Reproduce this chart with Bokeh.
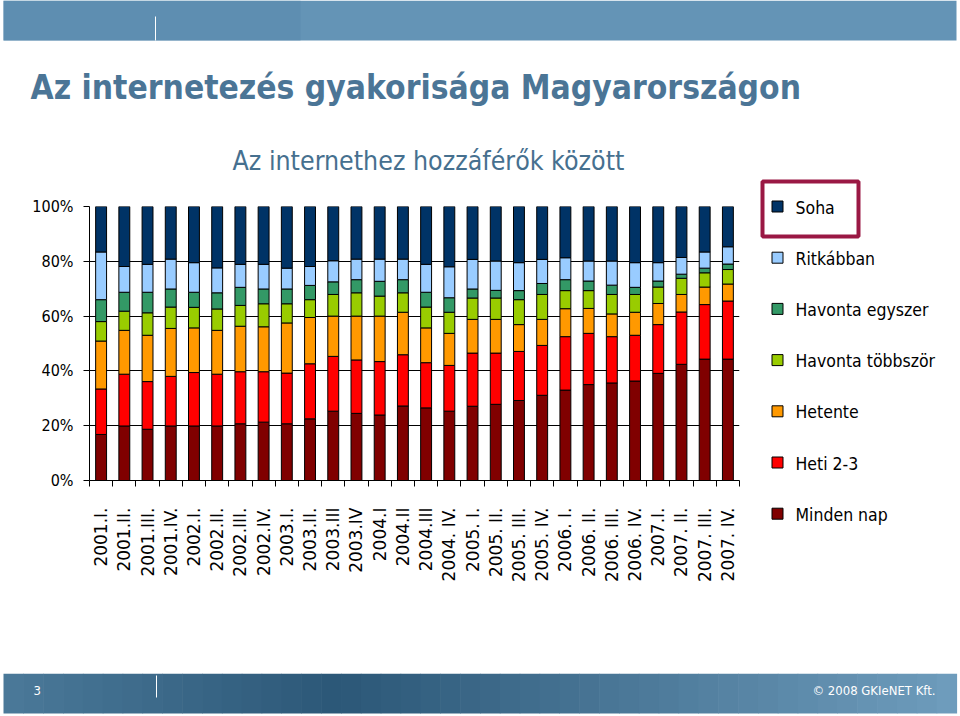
import math
from bokeh.plotting import figure
from bokeh.layouts import column, row
from bokeh.models import Range1d, FixedTicker, CustomJSTickFormatter, ColumnDataSource
from bokeh.core.properties import value
from bokeh.embed import file_html
from bokeh.resources import INLINE

# ---------------- data ----------------
categories = ["2001.I.", "2001.II.", "2001.III.", "2001.IV.",
              "2002.I.", "2002.II.", "2002.III.", "2002.IV.",
              "2003.I.", "2003.II.", "2003.III", "2003.IV",
              "2004.I", "2004.II", "2004.III", "2004. IV.",
              "2005. I.", "2005. II.", "2005. III.", "2005. IV.",
              "2006. I.", "2006. II.", "2006. III.", "2006. IV.",
              "2007.I.", "2007. II.", "2007. III.", "2007. IV."]

minden_nap = [16.8, 19.9, 18.7, 19.9, 19.9, 19.9, 20.7, 21.3, 20.7, 22.5, 25.3, 24.5, 23.9, 27.2,
              26.5, 25.3, 27.1, 27.8, 29.2, 31.1, 33.0, 35.0, 35.6, 36.3, 39.1, 42.4, 44.3, 44.3]
heti_2_3 = [16.6, 18.9, 17.4, 18.1, 19.5, 18.9, 19.0, 18.4, 18.5, 20.1, 20.0, 19.5, 19.5, 18.7,
            16.5, 16.7, 19.4, 18.7, 17.9, 18.2, 19.5, 18.7, 16.9, 16.7, 17.8, 19.1, 19.9, 21.2]
hetente = [17.5, 16.0, 16.9, 17.5, 16.3, 16.0, 16.6, 16.4, 18.3, 16.9, 14.7, 16.0, 16.6, 15.5,
           12.7, 11.7, 12.3, 12.3, 9.8, 9.5, 10.2, 9.1, 8.3, 8.4, 7.7, 6.4, 6.4, 6.2]
havonta_tobbszor = [7.1, 7.0, 8.2, 7.8, 7.5, 7.8, 7.6, 8.4, 7.0, 6.5, 7.9, 8.5, 7.3, 7.1,
                    7.6, 7.7, 7.8, 7.8, 9.1, 9.1, 6.6, 6.5, 7.1, 6.5, 6.0, 5.9, 5.2, 5.3]
havonta_egyszer = [8.0, 6.9, 7.5, 6.6, 5.5, 5.9, 6.6, 5.4, 5.4, 5.2, 4.6, 4.8, 5.4, 4.8,
                   5.4, 5.3, 3.3, 2.8, 3.3, 4.0, 4.0, 3.5, 3.4, 2.6, 2.2, 1.5, 1.7, 2.0]
ritkabban = [17.4, 9.4, 10.2, 10.9, 10.8, 9.1, 8.4, 9.0, 7.6, 6.9, 7.7, 7.5, 8.1, 7.5,
             10.2, 11.3, 10.8, 10.7, 10.2, 8.8, 8.0, 7.3, 8.8, 9.0, 6.7, 6.1, 5.9, 6.3]
soha = [16.6, 21.9, 21.1, 19.2, 20.5, 22.4, 21.1, 21.1, 22.5, 21.9, 19.8, 19.2, 19.2, 19.2,
        21.1, 22.0, 19.3, 19.9, 20.5, 19.3, 18.7, 19.9, 19.9, 20.5, 20.5, 18.6, 16.6, 14.7]

series_names = ["Minden nap", "Heti 2-3", "Hetente", "Havonta többször",
                "Havonta egyszer", "Ritkábban", "Soha"]
series_values = [minden_nap, heti_2_3, hetente, havonta_tobbszor, havonta_egyszer, ritkabban, soha]
colors = ["#800000", "#FF0000", "#FF9900", "#99CC00", "#339966", "#99CCFF", "#003366"]

y_ticks = [0, 20, 40, 60, 80, 100]
y_tick_labels = ["0%", "20%", "40%", "60%", "80%", "100%"]

title_text = "Az internetezés gyakorisága Magyarországon"
subtitle_text = "Az internethez hozzáférők között"
page_number = "3"
copyright_text = "© 2008 GKIeNET Kft."

SLIDE_FONT = "DejaVu Sans Condensed"
AXIS_FONT = "DejaVu Sans"

HDR_H = 177
MID_H = 673 - HDR_H


def blank(width, height, xr, yr):
    f = figure(width=width, height=height, x_range=Range1d(*xr), y_range=Range1d(*yr),
               x_axis_type=None, y_axis_type=None, output_backend="svg",
               toolbar_location=None, min_border=0)
    f.grid.visible = False
    f.outline_line_color = None
    f.background_fill_color = "white"
    f.border_fill_color = "white"
    if "frame_align" in f.properties():
        f.frame_align = False
    return f


# ---------------- header ----------------
hdr = blank(960, HDR_H, (0, 960), (HDR_H, 0))
hdr.quad(left=3, right=956, top=0, bottom=40, fill_color="#6494b6", line_color=None)
hdr.quad(left=3, right=300, top=0, bottom=40, fill_color="#5a8aae", line_color=None, fill_alpha=0.6)
hdr.segment(x0=155, y0=16, x1=155, y1=40, line_color="white", line_width=1)
hdr.text(x=[30], y=[87], text=[title_text], text_font=value(SLIDE_FONT),
         text_font_style="bold", text_font_size="33.3px", text_color="#4b7596",
         text_baseline="alphabetic", text_align="left")
hdr.text(x=[232], y=[160], text=[subtitle_text], text_font=value(SLIDE_FONT),
         text_font_size="26.5px", text_color="#46708f",
         text_baseline="alphabetic", text_align="left")

# ---------------- main chart ----------------
n = len(categories)
src = ColumnDataSource(dict(x=[i + 0.5 for i in range(n)],
                            **{f"s{k}": v for k, v in enumerate(series_values)}))

p = figure(width=750, height=MID_H, x_range=Range1d(0, n), y_range=Range1d(0, 100),
           output_backend="svg", toolbar_location=None,
           min_border_left=89, min_border_right=11, min_border_top=206 - HDR_H,
           min_border_bottom=193)
p.background_fill_color = "white"
p.border_fill_color = "white"
p.outline_line_color = None

p.vbar_stack([f"s{k}" for k in range(len(series_values))], x="x", width=0.47, source=src,
             fill_color=colors, line_color="black", line_width=1)

p.xgrid.visible = False
p.ygrid.ticker = FixedTicker(ticks=y_ticks)
p.ygrid.grid_line_color = "black"
p.ygrid.grid_line_width = 1

yax = p.yaxis[0]
yax.ticker = FixedTicker(ticks=y_ticks)
yax.major_label_overrides = {t: l for t, l in zip(y_ticks, y_tick_labels)}
yax.axis_line_color = "black"
yax.major_tick_line_color = "black"
yax.major_tick_out = 6
yax.major_tick_in = 0
yax.minor_tick_line_color = None
yax.major_label_standoff = 10
yax.major_label_text_font = SLIDE_FONT
yax.major_label_text_font_size = "16px"
yax.major_label_text_color = "black"

xax = p.xaxis[0]
xax.ticker = FixedTicker(ticks=[i + 0.5 for i in range(n)], minor_ticks=list(range(n + 1)))
xax.formatter = CustomJSTickFormatter(args=dict(labels=categories),
                                      code="const i = Math.floor(tick); return (i >= 0 && i < labels.length) ? labels[i] : '';")
xax.axis_line_color = "black"
xax.major_tick_line_color = None
xax.major_tick_out = 0
xax.major_tick_in = 0
xax.minor_tick_line_color = "black"
xax.minor_tick_out = 6
xax.minor_tick_in = 0
xax.major_label_orientation = math.pi / 2
xax.major_label_standoff = 21
xax.major_label_text_font = AXIS_FONT
xax.major_label_text_font_size = "17px"
xax.major_label_text_color = "black"

# ---------------- legend ----------------
leg = blank(210, MID_H, (750, 960), (673, HDR_H))
leg_names = series_names[::-1]
leg_colors = colors[::-1]
leg_y = [206 + 51.2 * k for k in range(len(leg_names))]
leg.rect(x=[777] * len(leg_names), y=leg_y, width=11, height=11,
         fill_color=leg_colors, line_color="black", line_width=1)
leg.text(x=[795] * len(leg_names), y=[v + 1 for v in leg_y], text=leg_names,
         text_font=value(SLIDE_FONT), text_font_size="17.5px", text_color="black",
         text_baseline="middle", text_align="left")
leg.quad(left=762, right=858, top=181, bottom=236, fill_color=None,
         line_color="#9a1844", line_width=4)

# ---------------- footer ----------------
ftr = blank(960, 43, (0, 960), (716, 673))
steps = 48
for k in range(steps):
    t = k / (steps - 1)
    if t < 0.35:
        a = t / 0.35
        c0, c1 = (0x4a, 0x78, 0x98), (0x2c, 0x58, 0x78)
    else:
        a = (t - 0.35) / 0.65
        c0, c1 = (0x2c, 0x58, 0x78), (0x6e, 0x9c, 0xbc)
    col = "#%02x%02x%02x" % tuple(int(c0[j] + (c1[j] - c0[j]) * a) for j in range(3))
    x0 = 3 + (956 - 3) * k / steps
    x1 = 3 + (956 - 3) * (k + 1) / steps + 0.6
    ftr.quad(left=x0, right=x1, top=673, bottom=713, fill_color=col, line_color=None)
ftr.segment(x0=156, y0=675, x1=156, y1=697, line_color="white", line_width=1)
ftr.text(x=[33], y=[690], text=[page_number], text_font=value(SLIDE_FONT),
         text_font_size="13px", text_color="white", text_baseline="middle", text_align="left")
ftr.text(x=[935], y=[690], text=[copyright_text], text_font=value(SLIDE_FONT),
         text_font_size="13px", text_color="white", text_baseline="middle", text_align="right")

layout = column(hdr, row(p, leg), ftr)
open("out.html", "w").write(file_html(layout, INLINE))
